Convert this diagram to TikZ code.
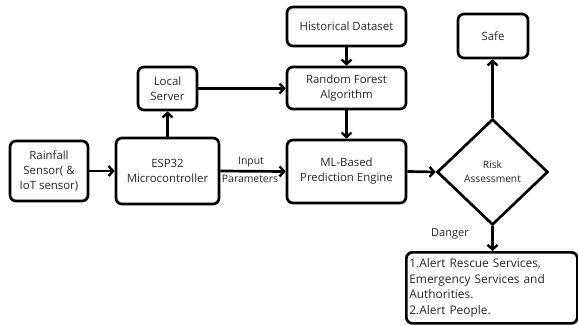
\documentclass[tikz,border=0pt]{standalone}
\usepackage{fontspec}
\setmainfont{Open Sans}
\usetikzlibrary{arrows.meta,shapes.geometric,positioning}
\begin{document}
\begin{tikzpicture}[x=1pt,y=-1pt,
  blk/.style={draw,line width=2.7pt,rounded corners=6pt,align=center,text=black!85,font=\fontsize{11.4}{15}\selectfont,inner sep=0pt},
  arr/.style={line width=2.7pt,-{Straight Barb[length=4.5pt,width=10pt,line width=2.4pt]}},
  lbl/.style={text=black!85,font=\fontsize{10.4}{11}\selectfont,inner sep=0pt}]
\useasboundingbox (0,0) rectangle (578,324);
\node[blk,minimum width=78pt,minimum height=60pt] (rain) at (49,171) {Rainfall\\Sensor( \&\\IoT sensor)};
\node[blk,minimum width=103pt,minimum height=66pt] (esp) at (167.5,171) {ESP32\\Microcontroller};
\node[blk,minimum width=59pt,minimum height=43pt] (loc) at (167.5,88.5) {Local\\Server};
\node[blk,minimum width=119pt,minimum height=39pt] (hist) at (346.5,26.5) {Historical Dataset};
\node[blk,minimum width=119pt,minimum height=42pt] (rf) at (346.5,88) {Random Forest\\Algorithm};
\node[blk,minimum width=119pt,minimum height=63pt] (ml) at (346.5,171.5) {ML-Based\\Prediction Engine};
\node[draw,line width=2.7pt,diamond,minimum width=111pt,minimum height=106pt,inner sep=0pt,align=center,text=black!85,font=\fontsize{10.2}{14}\selectfont] (risk) at (492.5,172) {Risk\\Assessment};
\node[blk,minimum width=70pt,minimum height=44pt] (safe) at (493,36) {Safe};
\node[blk,minimum width=171pt,minimum height=71pt,align=left,anchor=north west,text width=165pt,inner sep=3pt,font=\fontsize{11.9}{15.5}\selectfont] (alert) at (405,251) {1.Alert Rescue Services,\\Emergency Services and\\Authorities.\\2.Alert People.};
\draw[arr] (rain.east) -- (esp.west);
\draw[arr] (esp.east) -- node[lbl,above=3pt,xshift=-2pt]{Input} node[lbl,below=2pt,xshift=-3pt]{Parameters} (ml.west);
\draw[arr] (esp.north) -- (loc.south);
\draw[arr] (loc.east) -- (loc.east -| rf.west);
\draw[arr] (hist.south) -- (rf.north);
\draw[arr] (rf.south) -- (ml.north);
\draw[arr] (ml.east) -- (risk.west);
\draw[arr] (risk.north) -- (risk.north |- safe.south);
\draw[arr] (risk.south) -- (risk.south |- alert.north);
\node[lbl,font=\fontsize{11}{12}\selectfont] (danger) at (450,234) {Danger};
\end{tikzpicture}
\end{document}
